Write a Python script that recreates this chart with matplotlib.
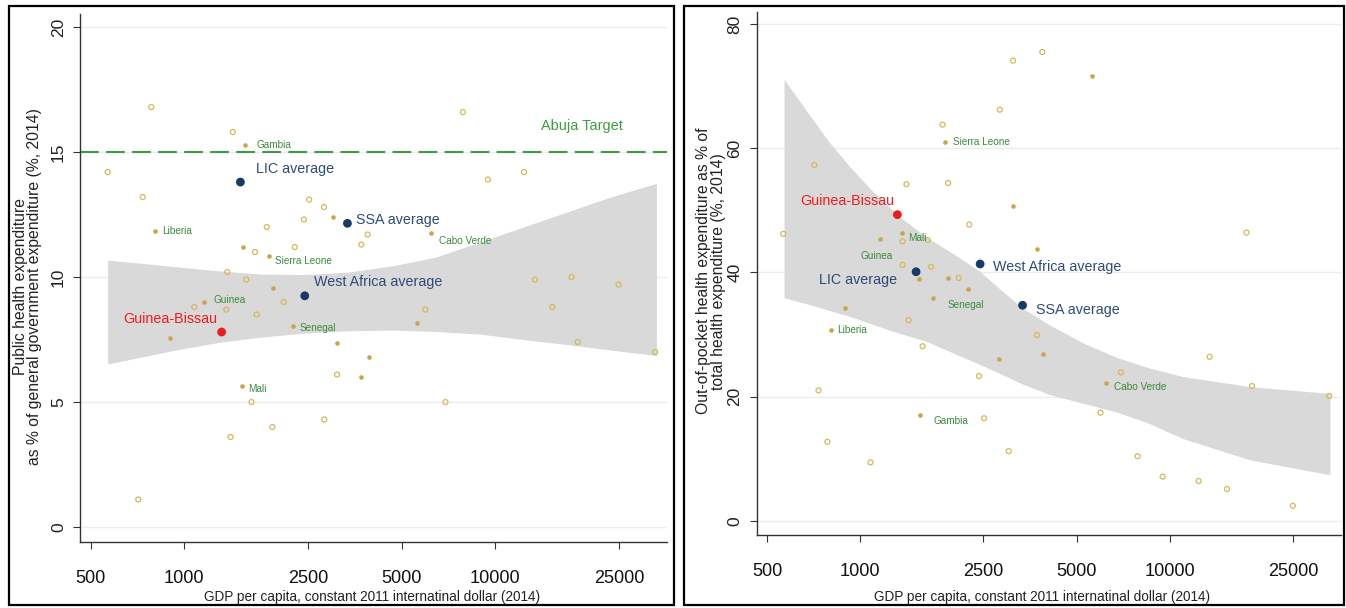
import matplotlib
matplotlib.use('Agg')
import matplotlib.pyplot as plt
from matplotlib.font_manager import fontManager
from matplotlib.patches import Rectangle
from matplotlib.ticker import FixedLocator, NullLocator, FixedFormatter

# ---------------- data ----------------
xticks = [500, 1000, 2500, 5000, 10000, 25000]

avg_names = ['Guinea-Bissau', 'LIC average', 'West Africa average', 'SSA average']
avg_gdp = [1318, 1515, 2440, 3346]

# left panel: public health expenditure, % of general government expenditure
phe_avg = [7.8, 13.8, 9.25, 12.15]
phe_open_gdp = [567, 783, 735, 711, 1432, 1374, 1077, 1365, 1582, 1687,
                1841, 1710, 2089, 2265, 2424, 2520, 2812, 3710, 3884, 3099,
                1645, 1920, 1409, 2820, 5957, 6913, 7870, 9464, 12370, 13410,
                15250, 17580, 18400, 24900, 32660]
phe_open = [14.2, 16.8, 13.2, 1.1, 15.8, 10.2, 8.8, 8.7, 9.9, 11.0,
            12.0, 8.5, 9.0, 11.2, 12.3, 13.1, 12.8, 11.3, 11.7, 6.1,
            5.0, 4.0, 3.6, 4.3, 8.7, 5.0, 16.6, 13.9, 14.2, 9.9,
            8.8, 10.0, 7.4, 9.7, 7.0]
phe_wa_gdp = [897, 1546, 1932, 3016, 3106, 3710, 3911, 5615]
phe_wa = [7.55, 11.2, 9.55, 12.4, 7.35, 6.0, 6.8, 8.15]
phe_lab_names = ['Gambia', 'Liberia', 'Sierra Leone', 'Guinea', 'Senegal', 'Mali', 'Cabo Verde']
phe_lab_gdp = [1563, 804, 1871, 1159, 2229, 1531, 6205]
phe_lab = [15.3, 11.85, 10.85, 9.0, 8.05, 5.65, 11.75]
phe_band_gdp = [567, 929, 1282, 1770, 2445, 3378, 4667, 6447, 8906, 12290, 16980, 23450, 32960]
phe_band_hi = [10.68, 10.42, 10.25, 10.12, 10.1, 10.2, 10.45, 10.8, 11.4, 12.0, 12.6, 13.2, 13.75]
phe_band_lo = [6.52, 7.07, 7.38, 7.6, 7.76, 7.85, 7.88, 7.82, 7.72, 7.5, 7.3, 7.08, 6.86]
abuja_target = 15

# right panel: out-of-pocket expenditure, % of total health expenditure
oop_avg = [49.3, 40.1, 41.35, 34.7]
oop_open_gdp = [564, 710, 733, 783, 1079, 1410, 1370, 1370, 1433, 1590,
                1650, 1693, 1845, 1923, 2082, 2251, 2419, 2512, 2825, 3019,
                3117, 3722, 3876, 5976, 6956, 7874, 9485, 12400, 13460, 15320,
                17710, 18460, 25000, 32790]
oop_open = [46.2, 57.3, 21.0, 12.7, 9.4, 54.2, 45.0, 41.2, 32.3, 28.1,
            45.2, 40.9, 63.8, 54.4, 39.1, 47.7, 23.3, 16.5, 66.2, 11.2,
            74.1, 29.9, 75.5, 17.4, 23.9, 10.4, 7.1, 6.4, 26.4, 5.1,
            46.4, 21.7, 2.4, 20.1]
oop_wa_gdp = [895, 1549, 1715, 1923, 2817, 3125, 3722, 3890, 5626]
oop_wa = [34.2, 39.0, 35.9, 39.1, 26.1, 50.7, 43.8, 26.9, 71.6]
oop_lab_names = ['Sierra Leone', 'Mali', 'Guinea', 'Senegal', 'Liberia', 'Gambia', 'Cabo Verde']
oop_lab_gdp = [1875, 1365, 1159, 2228, 802, 1560, 6220]
oop_lab = [61.0, 46.3, 45.3, 37.4, 30.7, 17.1, 22.2]
oop_band_gdp = [567, 675, 790, 926, 1085, 1315, 1636, 2042, 2428, 2800, 3350, 4100,
                5268, 6745, 8460, 11070, 18200, 32960]
oop_band_hi = [71.1, 65.8, 61.1, 57.0, 53.3, 49.3, 45.7, 42.7, 40.2, 37.5, 34.2, 31.5,
               28.6, 26.3, 24.7, 23.2, 21.6, 20.5]
oop_band_lo = [35.9, 34.9, 33.9, 32.9, 31.7, 30.3, 28.9, 26.8, 25.2, 23.8, 22.0, 20.3,
               18.9, 17.5, 15.8, 13.2, 9.8, 7.4]

# ---------------- styling ----------------
OPEN_C = '#d6b75e'
FILL_C = '#c9a747'
NAVY = '#173a6a'
NAVY_TXT = '#2d4b79'
RED = '#ee1c1c'
GREEN_TXT = '#3c8a3c'
ABUJA_C = '#3f9d3f'
BAND_C = '#d9d9d9'

names = {f.name for f in fontManager.ttflist}
NARROW = 'Liberation Sans Narrow' in names
plt.rcParams['font.family'] = ['Liberation Sans', 'DejaVu Sans']
if NARROW:
    narrow = ['Liberation Sans Narrow', 'DejaVu Sans']
    k = 1.0
else:
    narrow = ['Liberation Sans', 'DejaVu Sans']
    k = 0.87

# label offsets in pixels (dx, dy, ha)
phe_offsets = {'Gambia': (12, 0, 'left'), 'Liberia': (7, 0, 'left'),
               'Sierra Leone': (6, -5, 'left'), 'Guinea': (9, 2, 'left'),
               'Senegal': (7, -2, 'left'), 'Mali': (6, -3, 'left'),
               'Cabo Verde': (8, -8, 'left'),
               'Guinea-Bissau': (-4, 13, 'right'), 'LIC average': (16, 13, 'left'),
               'West Africa average': (9, 14, 'left'), 'SSA average': (9, 3, 'left')}
oop_offsets = {'Sierra Leone': (8, 0, 'left'), 'Mali': (6, -5, 'left'),
               'Guinea': (-20, -17, 'left'), 'Senegal': (-20, -16, 'left'),
               'Liberia': (7, 0, 'left'), 'Gambia': (13, -6, 'left'),
               'Cabo Verde': (8, -4, 'left'),
               'Guinea-Bissau': (-3, 14, 'right'), 'LIC average': (-19, -8, 'right'),
               'West Africa average': (13, -3, 'left'), 'SSA average': (13, -5, 'left')}

PX = 0.72  # pixels -> points at dpi 100


def draw_panel(ax, open_gdp, open_v, wa_gdp, wa_v, lab_names, lab_gdp, lab_v,
               band_gdp, band_lo, band_hi, avg_v, offsets, yticks, ylim, ylabel):
    ax.set_xscale('log')
    ax.set_xlim(462, 35650)
    ax.set_ylim(*ylim)

    ax.fill_between(band_gdp, band_lo, band_hi, color=BAND_C, lw=0, zorder=1)
    ax.scatter(open_gdp, open_v, s=13, facecolors='none', edgecolors=OPEN_C,
               linewidths=0.9, zorder=3)
    ax.scatter(wa_gdp + lab_gdp, wa_v + lab_v, s=11, color=FILL_C, lw=0, zorder=3)
    cols = [RED, NAVY, NAVY, NAVY]
    ax.scatter(avg_gdp, avg_v, s=40, c=cols, lw=0, zorder=4)

    for n, x, y in zip(lab_names, lab_gdp, lab_v):
        dx, dy, ha = offsets[n]
        ax.annotate(n, (x, y), xytext=(dx * PX, dy * PX), textcoords='offset points',
                    ha=ha, va='center', fontsize=8.3 * k, color=GREEN_TXT,
                    family=narrow, zorder=5)
    for n, x, y, c in zip(avg_names, avg_gdp, avg_v, cols):
        dx, dy, ha = offsets[n]
        ax.annotate(n, (x, y), xytext=(dx * PX, dy * PX), textcoords='offset points',
                    ha=ha, va='center', fontsize=11.8 * k,
                    color=RED if c == RED else NAVY_TXT, family=narrow, zorder=5)

    ax.xaxis.set_major_locator(FixedLocator(xticks))
    ax.xaxis.set_major_formatter(FixedFormatter([str(t) for t in xticks]))
    ax.xaxis.set_minor_locator(NullLocator())
    ax.set_yticks(yticks)
    ax.yaxis.grid(True, color='#ececec', lw=1.0, zorder=0)
    ax.set_axisbelow(True)
    for s in ['top', 'right']:
        ax.spines[s].set_visible(False)
    for s in ['left', 'bottom']:
        ax.spines[s].set_color('#333333')
        ax.spines[s].set_linewidth(1.0)
    ax.tick_params(axis='x', length=5, color='#333333', pad=15,
                   labelsize=15 * k, labelcolor='#111111')
    ax.tick_params(axis='y', length=5, color='#333333', pad=5, labelrotation=90,
                   labelsize=12.5, labelcolor='#222222')
    for lab in ax.get_xticklabels():
        lab.set_family(narrow)
    for lab in ax.get_yticklabels():
        lab.set_va('center')

    ax.set_xlabel('GDP per capita, constant 2011 internatinal dollar (2014)',
                  fontsize=11.3 * k, family=narrow, color='#222222', va='center')
    ax.set_ylabel(ylabel, fontsize=11.3, color='#222222', va='center',
                  linespacing=0.95)


fig = plt.figure(figsize=(13.46, 6.08), dpi=100)

ax1 = fig.add_axes([80 / 1346, 1 - 542 / 608, 587 / 1346, 528.4 / 608])
draw_panel(ax1, phe_open_gdp, phe_open, phe_wa_gdp, phe_wa, phe_lab_names,
           phe_lab_gdp, phe_lab, phe_band_gdp, phe_band_lo, phe_band_hi,
           phe_avg, phe_offsets, [0, 5, 10, 15, 20], (-0.6, 20.54),
           'Public health expenditure\nas % of general government expenditure (%, 2014)')
ax1.axhline(abuja_target, color=ABUJA_C, lw=1.5, dashes=(9, 3.5), zorder=2)
ax1.text(19000, 16.05, 'Abuja Target', ha='center', va='center', color=ABUJA_C,
         fontsize=12 * k, family=narrow)
ax1.xaxis.set_label_coords(0.497, -0.104)
ax1.yaxis.set_label_coords(-0.089, 0.483)

ax2 = fig.add_axes([756.5 / 1346, 1 - 535 / 608, 584 / 1346, 523.4 / 608])
draw_panel(ax2, oop_open_gdp, oop_open, oop_wa_gdp, oop_wa, oop_lab_names,
           oop_lab_gdp, oop_lab, oop_band_gdp, oop_band_lo, oop_band_hi,
           oop_avg, oop_offsets, [0, 20, 40, 60, 80], (-2.3, 82.0),
           'Out-of-pocket health expenditure as % of\ntotal health expenditure (%, 2014)')
ax2.xaxis.set_label_coords(0.489, -0.118)
ax2.yaxis.set_label_coords(-0.078, 0.504)

# panel frames
fig.add_artist(Rectangle((8.7 / 1346, 3 / 608), 664.8 / 1346, 599 / 608,
                         transform=fig.transFigure, fill=False, lw=1.6, edgecolor='black'))
fig.add_artist(Rectangle((684 / 1346, 3 / 608), 660 / 1346, 599 / 608,
                         transform=fig.transFigure, fill=False, lw=1.6, edgecolor='black'))

fig.savefig('out.png', dpi=100)
